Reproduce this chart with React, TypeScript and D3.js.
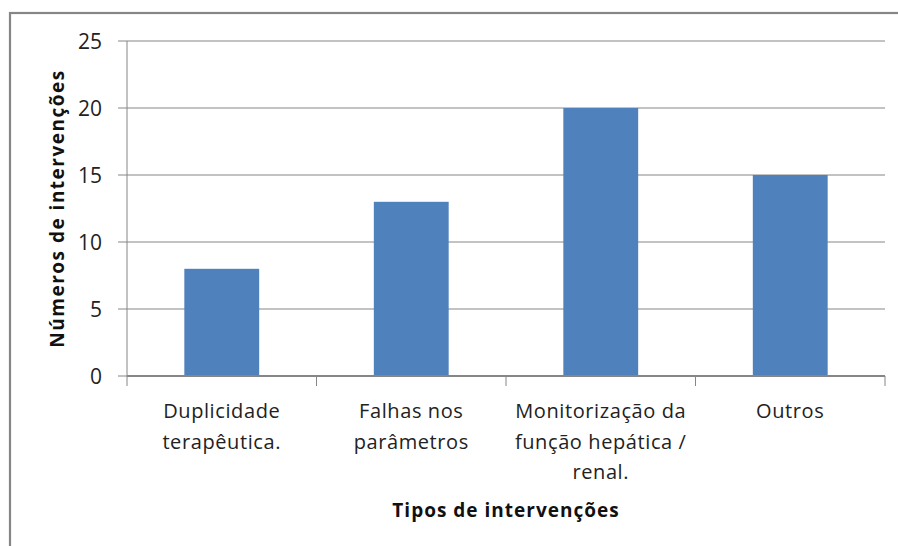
import React from "react";
import * as d3 from "d3";

const categories: string[][] = [
  ["Duplicidade", "terapêutica."],
  ["Falhas nos", "parâmetros"],
  ["Monitorização da", "função hepática /", "renal."],
  ["Outros"],
];
const values: number[] = [8, 13, 20, 15];
const yTicks: number[] = [0, 5, 10, 15, 20, 25];
const yTitle = "Números de intervenções";
const xTitle = "Tipos de intervenções";

const W = 898;
const H = 546;
const margin = { left: 127, right: 13, top: 41, bottom: 170 };
const FONT = "'Open Sans', 'Liberation Sans', sans-serif";
const GRID = "#868686";
const BAR = "#4F81BD";

export default function App() {
  const x = d3
    .scaleBand<number>()
    .domain(d3.range(values.length))
    .range([margin.left, W - margin.right])
    .paddingInner(0.605)
    .paddingOuter(0.3025);
  const y = d3.scaleLinear().domain([0, 25]).range([H - margin.bottom, margin.top]);
  const x0 = margin.left;
  const x1 = W - margin.right;
  const y0 = y(0);
  const step = (x1 - x0) / values.length;

  return (
    <svg
      width={W}
      height={H}
      style={{ position: "absolute", left: 0, top: 0, background: "#fff" }}
      fontFamily={FONT}
    >
      <rect x={10} y={13} width={W + 10} height={H + 10} fill="#fff" stroke={GRID} strokeWidth={2.2} />
      {yTicks.map((t) => (
        <g key={t}>
          {t > 0 && <line x1={x0} x2={x1} y1={y(t)} y2={y(t)} stroke={GRID} strokeWidth={1} />}
          <line x1={x0 - 9} x2={x0} y1={y(t)} y2={y(t)} stroke={GRID} strokeWidth={1} />
          <text x={102} y={y(t)} dy="0.36em" textAnchor="end" fontSize={21} fill="#222">
            {t}
          </text>
        </g>
      ))}
      {values.map((v, i) => (
        <rect key={i} x={x(i)} y={y(v)} width={x.bandwidth()} height={y0 - y(v)} fill={BAR} />
      ))}
      <line x1={x0} x2={x0} y1={margin.top} y2={y0} stroke={GRID} strokeWidth={1} />
      <line x1={x0} x2={x1} y1={y0} y2={y0} stroke={GRID} strokeWidth={2} />
      {d3.range(values.length + 1).map((i) => (
        <line key={i} x1={x0 + i * step} x2={x0 + i * step} y1={y0} y2={y0 + 10} stroke={GRID} strokeWidth={1} />
      ))}
      {categories.map((lines, i) => (
        <text key={i} textAnchor="middle" fontSize={20} fill="#222" letterSpacing={0.6}>
          {lines.map((l, j) => (
            <tspan key={j} x={(x(i) as number) + x.bandwidth() / 2} y={418 + j * 30.5}>
              {l}
            </tspan>
          ))}
        </text>
      ))}
      <text x={(x0 + x1) / 2} y={517} textAnchor="middle" fontSize={19} fontWeight="bold" fill="#111" letterSpacing={1}>
        {xTitle}
      </text>
      <text
        transform={`translate(64, ${(margin.top + y0) / 2}) rotate(-90)`}
        textAnchor="middle"
        fontSize={19}
        fontWeight="bold"
        fill="#111"
        letterSpacing={1.5}
      >
        {yTitle}
      </text>
    </svg>
  );
}
